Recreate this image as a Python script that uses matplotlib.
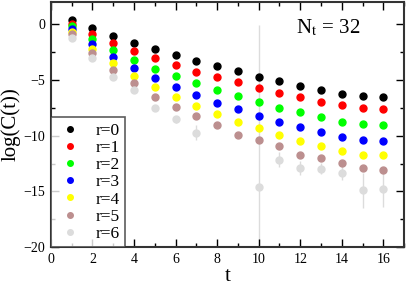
import numpy as np
import matplotlib.pyplot as plt
from matplotlib.ticker import MultipleLocator

plt.rcParams['font.family'] = ['Liberation Serif', 'DejaVu Serif']
plt.rcParams['mathtext.fontset'] = 'stix'

# time slices
t = np.arange(1, 17)

# log(C(t)) for each r
r0 = [0.38, -0.36, -1.02, -1.64, -2.21, -2.72, -3.26, -3.76, -4.20, -4.69, -5.13, -5.55, -5.94, -6.23, -6.48, -6.57]
r1 = [0.05, -0.90, -1.67, -2.39, -3.04, -3.64, -4.24, -4.74, -5.22, -5.70, -6.14, -6.57, -6.95, -7.28, -7.51, -7.60]
r2 = [-0.18, -1.34, -2.33, -3.19, -3.97, -4.62, -5.31, -5.90, -6.47, -6.98, -7.49, -7.91, -8.35, -8.77, -8.98, -9.07]
r3 = [-0.42, -1.79, -2.92, -3.91, -4.80, -5.61, -6.35, -7.04, -7.64, -8.20, -8.75, -9.25, -9.70, -10.08, -10.41, -10.50]
r4 = [-0.66, -2.18, -3.49, -4.60, -5.64, -6.50, -7.31, -8.02, -8.77, -9.34, -9.93, -10.47, -10.95, -11.40, -11.69, -11.75]
r5 = [-0.90, -2.60, -4.06, -5.31, -6.57, -7.40, -8.23, -9.00, -9.96, -10.38, -10.91, -11.75, -11.96, -12.47, -12.92, -13.10]
r6 = [-1.20, -3.04, -4.71, -5.94, -7.51, -8.53, -9.72, np.nan, np.nan, -14.64, -12.14, -12.92, -12.97, -13.36, -14.91, -14.82]
r6_err = [0.05, 0.05, 0.1, 0.1, 0.15, 0.3, 0.67, np.nan, np.nan, 14.6, 0.65, 0.63, 0.5, 0.6, 1.55, 1.6]

series = [r0, r1, r2, r3, r4, r5, r6]
labels = ['r=0', 'r=1', 'r=2', 'r=3', 'r=4', 'r=5', 'r=6']
colors = ['black', '#ff0000', '#00ff00', '#0000ff', '#ffff00', '#bc8f8f', '#dcdcdc']

fig = plt.figure(figsize=(4.07, 2.86), dpi=100)
ax = fig.add_axes([0.125, 0.136, 0.868, 0.857])

# error bars for the r=6 data
ax.errorbar(t, r6, yerr=r6_err, fmt='none', ecolor=colors[6], elinewidth=1.0, zorder=1)

for vals, lab, c in zip(series, labels, colors):
    ax.plot(t, vals, 'o', color=c, ms=5, mec=c, label=lab, zorder=2)

ax.set_xlim(0, 17)
ax.set_ylim(-20, 2)
ax.xaxis.set_major_locator(MultipleLocator(2))
ax.xaxis.set_minor_locator(MultipleLocator(1))
ax.yaxis.set_major_locator(MultipleLocator(5))
ax.yaxis.set_minor_locator(MultipleLocator(2.5))
ax.tick_params(which='both', direction='in', top=True, right=True, labelsize=10, pad=4)
ax.tick_params(which='major', length=6, width=1)
ax.tick_params(which='minor', length=3, width=1)
for sp in ax.spines.values():
    sp.set_linewidth(1.5)
    sp.set_color('#333333')

ax.set_xlabel('t', fontsize=15, labelpad=1)
ax.set_ylabel('log(C(t))', fontsize=15, labelpad=2)

ax.text(11.8, -0.3, r'N$_\mathrm{t}$ = 32', fontsize=15, ha='left', va='center')

leg = ax.legend(loc='lower left', fontsize=12.5, frameon=True, fancybox=False,
                borderaxespad=0, handletextpad=0.7, labelspacing=0.06,
                handlelength=1.6, borderpad=0.3, markerscale=0.8)
leg.get_frame().set_edgecolor('#333333')
leg.get_frame().set_linewidth(1.2)

fig.savefig('out.png', dpi=100)
